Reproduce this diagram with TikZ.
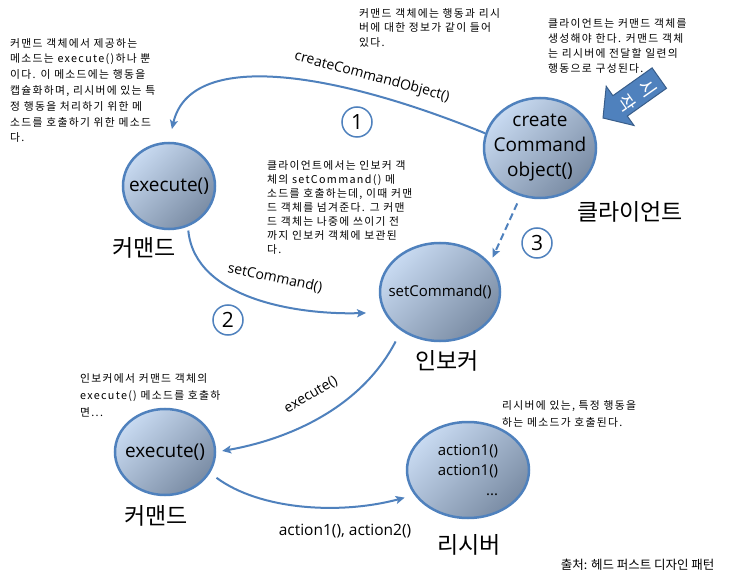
\documentclass[tikz,border=0pt]{standalone}
\usepackage{fontspec}
\setmainfont{Open Sans}
\newfontfamily\kr{Noto Sans CJK KR}
\newfontfamily\krnote[LetterSpace=12]{Noto Sans CJK KR}
\usetikzlibrary{shapes.geometric,arrows.meta}
\definecolor{nodeblue}{RGB}{79,129,189}
\definecolor{nodeedge}{RGB}{56,93,138}
\definecolor{elltop}{RGB}{200,218,241}
\definecolor{ellbot}{RGB}{122,140,164}
\begin{document}
\begin{tikzpicture}[x=1pt, y=-1pt,
		obj/.style={ellipse, draw=nodeblue, line width=2.5pt, inner sep=0pt,
			top color=elltop, bottom color=ellbot, shading angle=45},
		big/.style={align=center, font=\fontsize{19}{25}\selectfont},
		mid/.style={align=center, font=\fontsize{15}{20}\selectfont},
		role/.style={font=\kr\fontsize{23}{23}\selectfont},
		note/.style={anchor=north west, align=left, inner sep=0pt,
			font=\krnote\fontsize{10.8}{#1}\selectfont},
		note/.default=15,
		num/.style={circle, draw=nodeblue, line width=1.5pt, fill=white,
			minimum size=30pt, inner sep=0pt, font=\fontsize{21}{21}\selectfont},
		call/.style={font=\fontsize{14}{14}\selectfont},
		flow/.style={draw=nodeblue, line width=2pt, -{Stealth[length=9pt,width=8pt,inset=2pt]}}]
			\fill[white] (0,0) rectangle (734,580);
			\useasboundingbox (0,0) rectangle (734,580);

			\node[obj, minimum width=112pt, minimum height=100pt, label={[big]center:create\\Command\\object()}] (cl) at (540,148) {};
			\node[obj, minimum width=92pt, minimum height=86pt, label={[big]center:execute()}] (cmd1) at (169,186) {};
			\node[obj, minimum width=120pt, minimum height=98pt, label={[mid]center:setCommand()}] (inv) at (440,292) {};
			\node[obj, minimum width=100pt, minimum height=86pt, label={[big]center:execute()}] (cmd2) at (165,452) {};
			\node[obj, minimum width=122pt, minimum height=96pt, label={[mid, align=right]center:action1()\\action1()\\...}] (recv) at (468,470) {};

			\node[role] (cmdlab1) at (144,248) {커맨드};
			\node[role] (cllab) at (630,212) {클라이언트};
			\node[role] (invlab) at (447,361) {인보커};
			\node[role] (cmdlab2) at (156,516) {커맨드};
			\node[role] (recvlab) at (469,545) {리시버};

			\node[note=15.8] (n1) at (10,38) {커맨드 객체에서 제공하는\\메소드는 execute()하나 뿐\\이다. 이 메소드에는 행동을\\캡슐화하며, 리시버에 있는 특\\정 행동을 처리하기 위한 메\\소드를 호출하기 위한 메소드\\다.};
			\node[note=14.5] (n2) at (359,8) {커맨드 객체에는 행동과 리시\\버에 대한 정보가 같이 들어\\있다.};
			\node[note=15] (n3) at (548,18) {클라이언트는 커맨드 객체를\\생성해야 한다. 커맨드 객체\\는 리시버에 전달할 일련의\\행동으로 구성된다.};
			\node[note=14] (n4) at (267,160) {클라이언트에서는 인보커 객\\체의 setCommand() 메\\소드를 호출하는데, 이때 커맨\\드 객체를 넘겨준다. 그 커맨\\드 객체는 나중에 쓰이기 전\\까지 인보커 객체에 보관된\\다.};
			\node[note=17] (n5) at (80,373) {인보커에서 커맨드 객체의\\execute() 메소드를 호출하\\면...};
			\node[note=17] (n6) at (502,400) {리시버에 있는, 특정 행동을\\하는 메소드가 호출된다.};

			\draw[flow, shorten >=13pt] (cl.165) .. controls (330,70) and (190,50) .. (cmd1.north);
			\draw[flow, shorten <=4pt, shorten >=18pt] (cmd1.-65) .. controls (195,300) and (300,315) .. (inv.200);
			\draw[flow, dash pattern=on 7pt off 4pt, shorten <=8pt, shorten >=6pt] (cl.-112) -- (inv.30);
			\draw[flow, shorten <=12pt, shorten >=6pt] (inv.-135) .. controls (360,410) and (285,440) .. (cmd2.east);
			\draw[flow, shorten <=8pt, shorten >=10pt] (cmd2.-25) .. controls (260,510) and (340,515) .. (recv.205);

			\node[call, rotate=-15] (l1) at (372,77) {createCommandObject()};
			\node[call, rotate=-12] (l2) at (275,278) {setCommand()};
			\node[call, rotate=30] (l4) at (311,395) {execute()};
			\node[call, font=\fontsize{15.5}{15.5}\selectfont] (l5) at (345,531) {action1(), action2()};

			\node[num] (s1) at (357,122) {1};
			\node[num] (s2) at (228,320) {2};
			\node[num] (s3) at (537,243) {3};

			\filldraw[fill=nodeblue, draw=nodeedge, line width=1pt] (603,118) -- (634.0,125.5) -- (627.3,116.1) -- (666.5,88.3) -- (652.1,67.9) -- (612.9,95.7) -- (606.2,86.3) -- cycle;
			\node[font=\kr\fontsize{18}{26}\selectfont, text=white, align=center, rotate=-55] (go) at (637,96) {시\\작};

			\node[font=\kr\fontsize{12.5}{12.5}\selectfont, anchor=east] (src) at (718,565) {출처: 헤드 퍼스트 디자인 패턴};
		\end{tikzpicture}
\end{document}
